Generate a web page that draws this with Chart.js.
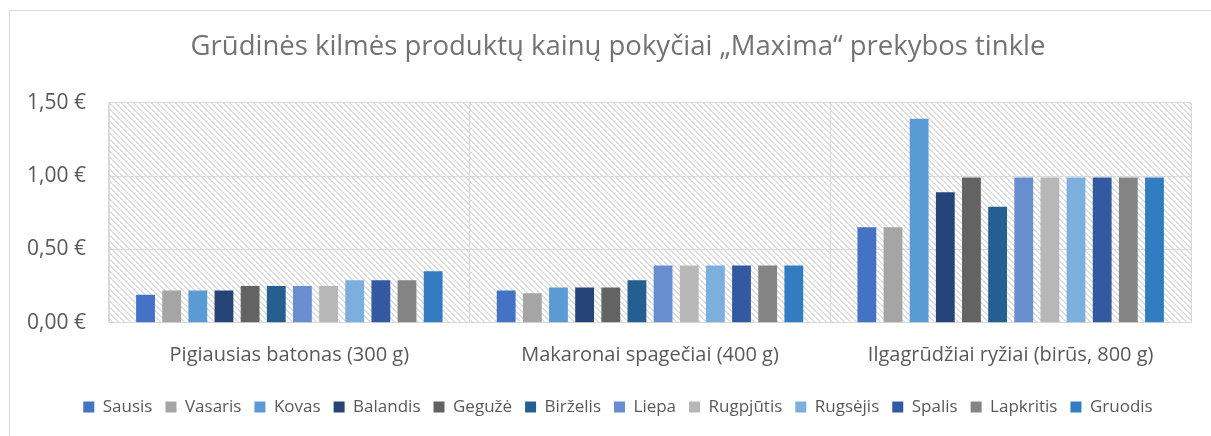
<!DOCTYPE html>
<html>
<head>
<meta charset="utf-8">
<script src="https://cdn.jsdelivr.net/npm/chart.js@4.4.0/dist/chart.umd.min.js"></script>
<style>
  html, body { margin: 0; padding: 0; background: #ffffff; }
  #wrap { width: 1211px; height: 436px; position: relative; }
</style>
</head>
<body>
<div id="wrap"><canvas id="pricesChart"></canvas></div>
<script>
const categories = ['Pigiausias batonas (300 g)', 'Makaronai spagečiai (400 g)', 'Ilgagrūdžiai ryžiai (birūs, 800 g)'];
const months = ['Sausis', 'Vasaris', 'Kovas', 'Balandis', 'Gegužė', 'Birželis', 'Liepa', 'Rugpjūtis', 'Rugsėjis', 'Spalis', 'Lapkritis', 'Gruodis'];
const monthColors = ['#4472C4', '#A5A5A5', '#5B9BD5', '#264478', '#636363', '#255E91', '#698ED0', '#B7B7B7', '#7CAFDD', '#335AA1', '#848484', '#327DC2'];

// price per product, one array per month (batonas, makaronai, ryžiai)
const sausis = [0.19, 0.22, 0.65];
const vasaris = [0.22, 0.20, 0.65];
const kovas = [0.22, 0.24, 1.39];
const balandis = [0.22, 0.24, 0.89];
const geguze = [0.25, 0.24, 0.99];
const birzelis = [0.25, 0.29, 0.79];
const liepa = [0.25, 0.39, 0.99];
const rugpjutis = [0.25, 0.39, 0.99];
const rugsejis = [0.29, 0.39, 0.99];
const spalis = [0.29, 0.39, 0.99];
const lapkritis = [0.29, 0.39, 0.99];
const gruodis = [0.35, 0.39, 0.99];
const monthValues = [sausis, vasaris, kovas, balandis, geguze, birzelis, liepa, rugpjutis, rugsejis, spalis, lapkritis, gruodis];

const yTicks = [0, 0.5, 1.0, 1.5];

const FONT = '"Open Sans", "DejaVu Sans", sans-serif';
const GRID = '#D9D9D9';

// wide downward diagonal hatch like the Excel plot area fill
function makeHatch() {
    const size = 6;
    const c = document.createElement('canvas');
    c.width = size; c.height = size;
    const g = c.getContext('2d');
    g.fillStyle = '#ffffff';
    g.fillRect(0, 0, size, size);
    g.fillStyle = '#DEDEDE';
    for (let y = 0; y < size; y++) {
        for (let x = 0; x < size; x++) {
            if (((x - y + size) % size) < 2) g.fillRect(x, y, 1, 1);
        }
    }
    return c;
}

const backdrop = {
    id: 'backdrop',
    afterLayout(chart) {
        // title and legend sit centred a bit right of the canvas middle
        if (chart.legend) chart.legend.left += 45;
        if (chart.titleBlock) chart.titleBlock.left += 45;
    },
    beforeDraw(chart) {
        const ctx = chart.ctx;
        const a = chart.chartArea;
        ctx.save();
        ctx.fillStyle = '#ffffff';
        ctx.fillRect(0, 0, chart.width, chart.height);
        ctx.fillStyle = ctx.createPattern(makeHatch(), 'repeat');
        ctx.fillRect(a.left, a.top, a.right - a.left, a.bottom - a.top);
        // outer chart frame
        ctx.strokeStyle = GRID;
        ctx.lineWidth = 1;
        ctx.strokeRect(9.5, 10.5, chart.width, chart.height);
        ctx.restore();
    }
};

const datasets = months.map((m, i) => ({
    label: m,
    data: monthValues[i],
    backgroundColor: monthColors[i],
    borderWidth: 0,
    categoryPercentage: 0.87,
    barPercentage: 0.72
}));

new Chart(document.getElementById('pricesChart'), {
    type: 'bar',
    data: { labels: categories, datasets: datasets },
    options: {
        responsive: true,
        maintainAspectRatio: false,
        animation: false,
        layout: { padding: { left: 0, right: 20, top: 0, bottom: 10.5 } },
        plugins: {
            title: {
                display: true,
                text: 'Grūdinės kilmės produktų kainų pokyčiai „Maxima“ prekybos tinkle',
                color: '#737373',
                font: { family: FONT, size: 27.5, weight: 'normal' },
                padding: { top: 30.5, bottom: 39.2 }
            },
            legend: {
                display: true,
                position: 'bottom',
                labels: {
                    color: '#595959',
                    font: { family: FONT, size: 17 },
                    boxWidth: 11,
                    boxHeight: 11,
                    padding: 13
                }
            },
            tooltip: { enabled: false }
        },
        scales: {
            x: {
                grid: { display: true, color: GRID, lineWidth: 1, drawTicks: false, offset: true },
                border: { display: true, color: GRID },
                ticks: {
                    color: '#595959',
                    font: { family: FONT, size: 20 },
                    padding: 21
                },
                afterFit(scale) { scale.height = 62.8; }
            },
            y: {
                min: 0,
                max: 1.5,
                afterBuildTicks(scale) { scale.ticks = yTicks.map(v => ({ value: v })); },
                grid: { color: GRID, lineWidth: 1, drawTicks: false },
                border: { display: true, color: GRID },
                ticks: {
                    color: '#595959',
                    font: { family: FONT, size: 21 },
                    padding: 23,
                    callback: v => v.toFixed(2).replace('.', ',') + ' €'
                },
                afterFit(scale) { scale.width = 109; }
            }
        }
    },
    plugins: [backdrop]
});
</script>
</body>
</html>
